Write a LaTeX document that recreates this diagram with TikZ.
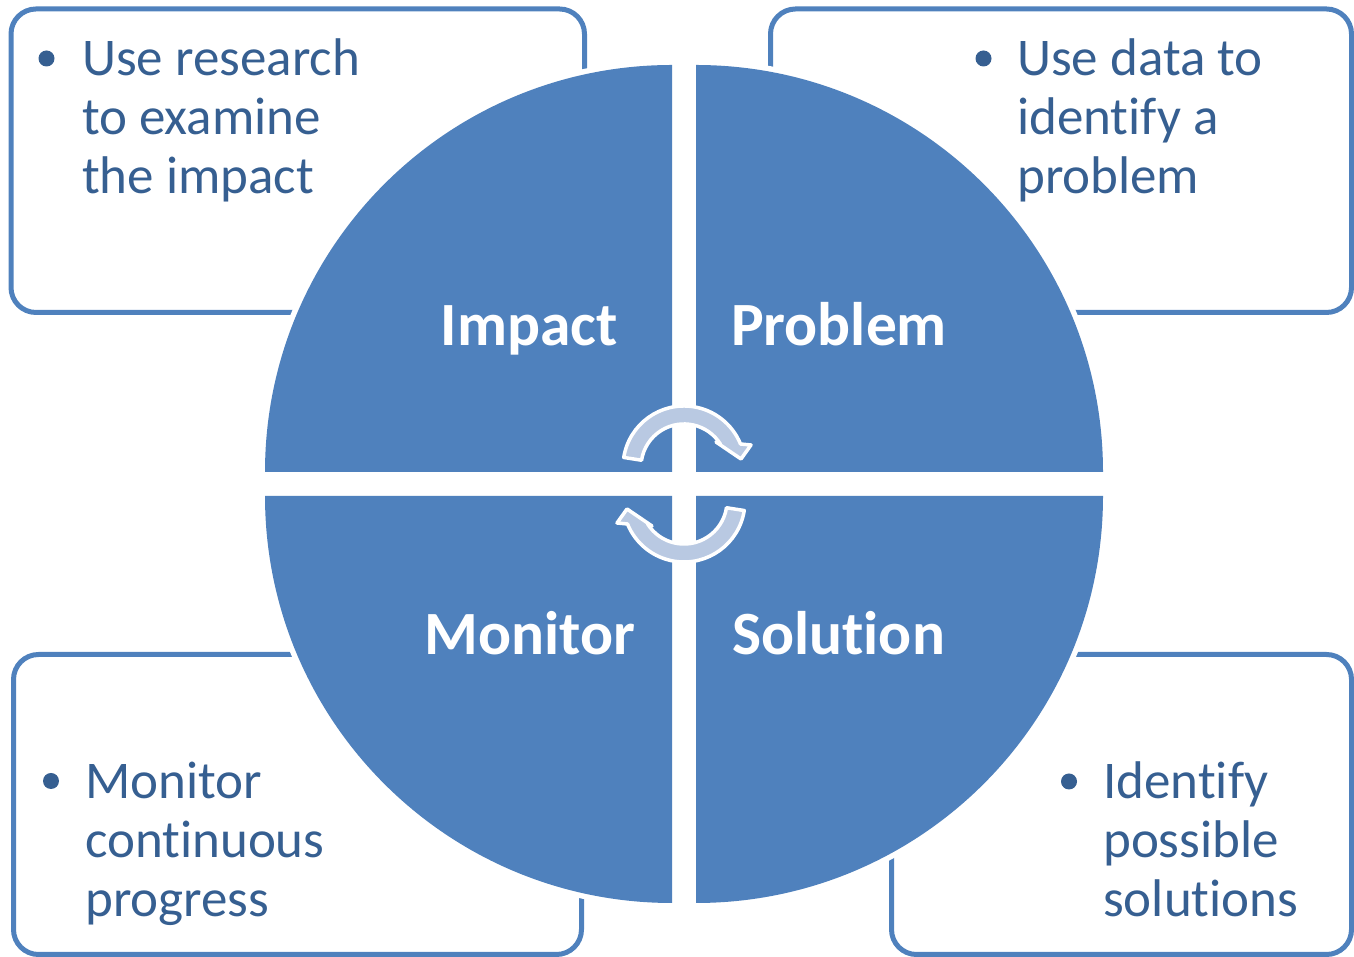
\documentclass[tikz,border=0pt]{standalone}
\usepackage{fontspec}
\setmainfont{Carlito}[RawFeature={-liga;-clig;-dlig;-calt}]
\definecolor{qblue}{HTML}{4F81BD}
\definecolor{txtblue}{HTML}{365F91}
\definecolor{arrfill}{HTML}{B9C9E2}
\tikzset{
  infobox/.style={draw=qblue, line width=5pt, rounded corners=25pt},
  quad/.style={fill=qblue, preaction={draw=white, line width=11pt}},
  boxtext/.style={anchor=base west, inner sep=0pt, text=txtblue, font=\fontsize{53}{59}\selectfont},
  qlabel/.style={anchor=base, inner sep=0pt, text=white, font=\fontsize{61.5}{72}\selectfont\bfseries},
  bulletdot/.style={fill=txtblue},
  cyclearrow/.pic={
    \draw[fill=arrfill, draw=white, line width=3.5pt, line join=round]
      (-60.25,26.54) arc[start angle=171, end angle=22.15, radius=61pt]
      -- (67,39) -- (57,25) -- (32,42) -- (36.35,40)
      arc[start angle=32.3, end angle=171, radius=43pt] -- cycle;
  }
}
\begin{document}
\begin{tikzpicture}[x=1pt,y=1pt]
\useasboundingbox (0,0) rectangle (1354,957);
% corner boxes
\draw[infobox] (11,948) rectangle (584.5,644.5);
\draw[infobox] (770.5,948) rectangle (1351.5,644.5);
\draw[infobox] (13.5,302.5) rectangle (581.5,2.5);
\draw[infobox] (891.5,302.5) rectangle (1351.5,2.5);
% quadrants
\fill[quad] (672,485) -- (265,485) arc[start angle=180, end angle=90, radius=407pt] -- cycle;
\fill[quad] (696,485) -- (696,892) arc[start angle=90, end angle=0, radius=407pt] -- cycle;
\fill[quad] (672,461) -- (265,461) arc[start angle=180, end angle=270, radius=407pt] -- cycle;
\fill[quad] (696,461) -- (1103,461) arc[start angle=0, end angle=-90, radius=407pt] -- cycle;
% quadrant labels
\node[qlabel] (impact) at (529,611) {Impact};
\node[qlabel] (problem) at (839,611) {Problem};
\node[qlabel] (monitor) at (530,302) {Monitor};
\node[qlabel] (solution) at (838.5,302) {Solution};
% cycle arrows
\pic (arrtop) at (684,473) {cyclearrow};
\pic[rotate=180] (arrbot) at (684,473) {cyclearrow};
% bullets
\fill[bulletdot] (46.5,898.5) circle[radius=8pt];
\fill[bulletdot] (983.5,898.5) circle[radius=8pt];
\fill[bulletdot] (51,176) circle[radius=8pt];
\fill[bulletdot] (1069,175.5) circle[radius=8pt];
% box texts
\node[boxtext] (tla) at (82,881) {Use research};
\node[boxtext] (tlb) at (82,822) {to examine};
\node[boxtext] (tlc) at (82,763) {the impact};
\node[boxtext] (tra) at (1017,881) {Use data to};
\node[boxtext] (trb) at (1017,822) {identify a};
\node[boxtext] (trc) at (1017,763) {problem};
\node[boxtext] (bla) at (85,158) {Monitor};
\node[boxtext] (blb) at (85,99) {continuous};
\node[boxtext] (blc) at (85,40) {progress};
\node[boxtext] (bra) at (1103,158) {Identify};
\node[boxtext] (brb) at (1103,99) {possible};
\node[boxtext] (brc) at (1103,40) {solutions};
\end{tikzpicture}
\end{document}
